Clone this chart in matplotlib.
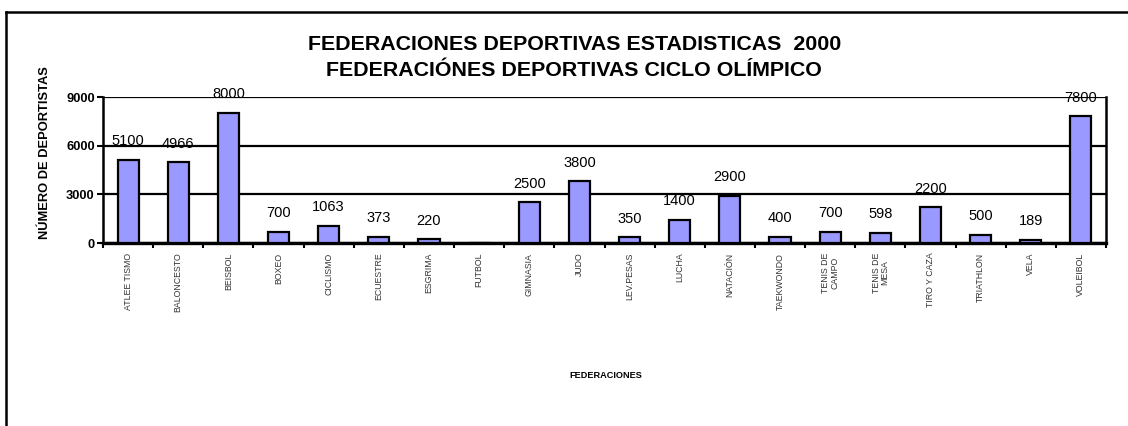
import numpy as np
import matplotlib
matplotlib.use('Agg')
import matplotlib.pyplot as plt
from matplotlib.lines import Line2D

plt.rcParams['font.family'] = ['Liberation Sans', 'DejaVu Sans']

federaciones = ['ATLEE TISMO', 'BALONCESTO', 'BEISBOL', 'BOXEO', 'CICLISMO',
                'ECUESTRE', 'ESGRIMA', 'FUTBOL', 'GIMNASIA', 'JUDO',
                'LEV.PESAS', 'LUCHA', 'NATACIÓN', 'TAEKWONDO', 'TENIS DE\nCAMPO',
                'TENIS DE\nMESA', 'TIRO Y CAZA', 'TRIATHLON', 'VELA', 'VOLEIBOL']
deportistas = [5100, 4966, 8000, 700, 1063, 373, 220, 0, 2500, 3800,
               350, 1400, 2900, 400, 700, 598, 2200, 500, 189, 7800]
y_ticks = [0, 3000, 6000, 9000]

fig = plt.figure(figsize=(11.28, 4.26), dpi=100)
ax = fig.add_axes([103 / 1128, 1 - 243 / 426, (1106 - 103) / 1128, (243 - 97) / 426])

x = np.arange(len(federaciones))
ax.bar(x, deportistas, width=0.42, color='#9999ff', edgecolor='black', linewidth=1.6, zorder=3)

for xi, v in zip(x, deportistas):
    if v > 0:
        ax.annotate(f'{v}', (xi, v), xytext=(0, 8.5), textcoords='offset points',
                    ha='center', va='bottom', fontsize=10.5, color='black', zorder=4)

ax.set_xlim(-0.5, len(federaciones) - 0.5)
ax.set_ylim(0, 9000)
ax.set_yticks(y_ticks)
ax.set_yticklabels([str(t) for t in y_ticks], fontsize=9.3, fontweight='bold')
ax.yaxis.grid(True, color='black', linewidth=1.6, zorder=1)
ax.set_axisbelow(True)

ax.set_xticks(x)
ax.set_xticklabels(federaciones, rotation=90, fontsize=6.3, color='#333333',
                   va='top', ha='center', linespacing=0.95)
ax.tick_params(axis='x', which='major', length=0, pad=7)
ax.set_xticks(np.arange(-0.5, len(federaciones)), minor=True)
ax.tick_params(axis='x', which='minor', length=3.5, width=1.5, direction='out')
ax.tick_params(axis='y', length=4, width=1.5, direction='out', pad=2)

for s in ['left', 'bottom', 'right']:
    ax.spines[s].set_linewidth(1.8)
ax.spines['bottom'].set_linewidth(2.4)
ax.spines['top'].set_visible(False)

fig.text(45 / 1128, 1 - 153 / 426, 'NÚMERO DE DEPORTISTAS', fontsize=9.3, fontweight='bold',
         rotation=90, ha='center', va='center')
fig.text(606 / 1128, 1 - 375 / 426, 'FEDERACIONES', fontsize=6.6, fontweight='bold',
         ha='center', va='center')

fig.text(575 / 1128, 1 - 45 / 426, 'FEDERACIONES DEPORTIVAS ESTADISTICAS  2000',
         fontsize=15.4, fontweight='bold', ha='center', va='center')
fig.text(574 / 1128, 1 - 71 / 426, 'FEDERACIÓNES DEPORTIVAS CICLO OLÍMPICO',
         fontsize=15.4, fontweight='bold', ha='center', va='center')

# outer frame (left and top visible)
fig.add_artist(Line2D([6 / 1128, 6 / 1128], [0, 1 - 12 / 426], color='black', linewidth=1.8,
                      transform=fig.transFigure))
fig.add_artist(Line2D([6 / 1128, 1], [1 - 12 / 426, 1 - 12 / 426], color='black', linewidth=1.8,
                      transform=fig.transFigure))

fig.savefig('out.png', dpi=100, facecolor='white')
